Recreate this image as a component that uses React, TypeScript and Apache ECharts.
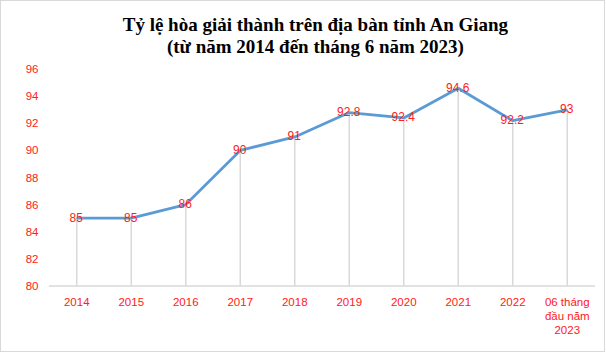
import React, { useEffect, useRef } from "react";
import * as echarts from "echarts";

const titleLines = [
  "Tỷ lệ hòa giải thành trên địa bàn tỉnh An Giang",
  "(từ năm 2014 đến tháng 6 năm 2023)",
];
const categories = [
  "2014",
  "2015",
  "2016",
  "2017",
  "2018",
  "2019",
  "2020",
  "2021",
  "2022",
  "06 tháng\nđầu năm\n2023",
];
const rates = [85, 85, 86, 90, 91, 92.8, 92.4, 94.6, 92.2, 93];
const yMin = 80;
const yMax = 96;
const yStep = 2;

export default function App() {
  const ref = useRef<HTMLDivElement>(null);
  useEffect(() => {
    document.body.style.margin = "0";
    if (!ref.current) return;
    const chart = echarts.init(ref.current, null, { renderer: "svg" });
    const red = "#FF2020";
    chart.setOption({
      animation: false,
      backgroundColor: "#ffffff",
      grid: { left: 49.5, right: 11.5, top: 69.3, bottom: 67.3 },
      graphic: [
        {
          type: "text",
          style: {
            text: titleLines[0],
            x: 315.4,
            y: 24.7,
            align: "center",
            verticalAlign: "middle",
            font: "bold 19px 'Liberation Serif'",
            fill: "#000000",
          },
        },
        {
          type: "text",
          style: {
            text: titleLines[1],
            x: 315.4,
            y: 46.2,
            align: "center",
            verticalAlign: "middle",
            font: "bold 19px 'Liberation Serif'",
            fill: "#000000",
          },
        },
      ],
      xAxis: {
        type: "category",
        data: categories,
        axisLine: { show: true, lineStyle: { color: "#D9D9D9", width: 1.5 } },
        axisTick: { show: false },
        axisLabel: {
          color: red,
          fontFamily: "Liberation Sans",
          fontSize: 11.5,
          lineHeight: 14.3,
          margin: 9,
          interval: 0,
        },
        splitLine: { show: false },
      },
      yAxis: {
        type: "value",
        min: yMin,
        max: yMax,
        interval: yStep,
        axisLine: { show: false },
        axisTick: { show: false },
        splitLine: { show: false },
        axisLabel: {
          color: red,
          fontFamily: "Liberation Sans",
          fontSize: 11.5,
          margin: 11,
        },
      },
      series: [
        {
          type: "bar",
          data: rates,
          barWidth: 1.5,
          itemStyle: { color: "#D9D9D9" },
          silent: true,
          z: 1,
        },
        {
          type: "line",
          data: rates,
          showSymbol: true,
          symbol: "circle",
          symbolSize: 1,
          itemStyle: { color: "#5B9BD5" },
          lineStyle: { color: "#5B9BD5", width: 2.75 },
          z: 2,
          label: {
            show: true,
            position: [0, 0],
            align: "center",
            verticalAlign: "middle",
            color: red,
            fontFamily: "Liberation Sans",
            fontSize: 12,
          },
        },
      ],
    });
    return () => chart.dispose();
  }, []);
  return (
    <div
      style={{
        position: "fixed",
        left: 0,
        top: 0,
        width: 606,
        height: 353,
        background: "#fff",
      }}
    >
      <div
        ref={ref}
        style={{ position: "absolute", left: 0, top: 0, width: 606, height: 353 }}
      />
      <div
        style={{
          position: "absolute",
          left: 0,
          top: 0,
          width: 605,
          height: 352,
          boxSizing: "border-box",
          border: "1px solid #D9D9D9",
          pointerEvents: "none",
        }}
      />
    </div>
  );
}
